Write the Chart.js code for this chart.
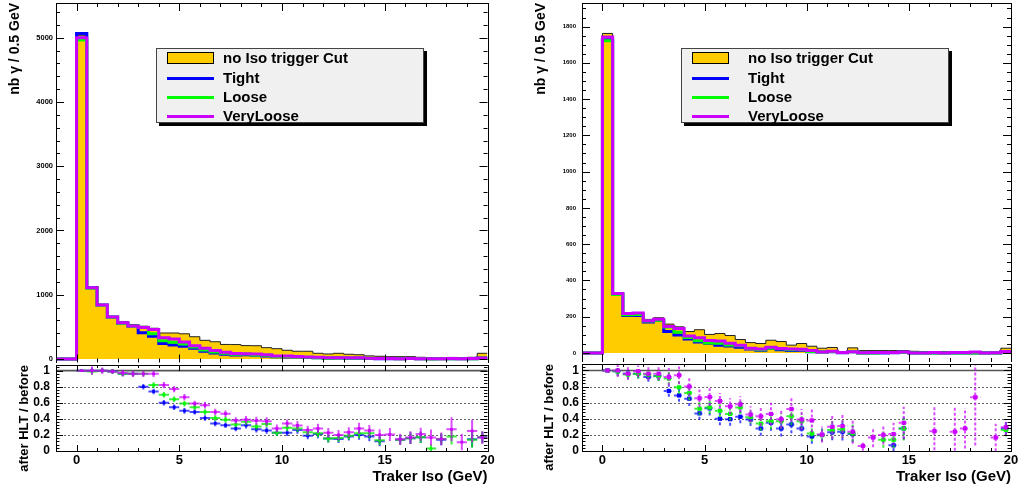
<!DOCTYPE html>
<html>
<head>
<meta charset="utf-8">
<script src="https://cdn.jsdelivr.net/npm/chart.js@4/dist/chart.umd.min.js"></script>
<style>
  body { margin: 0; width: 1019px; height: 488px; background: #fff; position: relative; overflow: hidden;
         font-family: "Liberation Sans", Arial, Helvetica, sans-serif; }
  canvas { position: absolute; }
  .legend { position: absolute; box-sizing: border-box; width: 268px; height: 75px; background: #f0f0f0;
            border: 1px solid #444; box-shadow: 3px 3px 0 #000; z-index: 5; }
  .legend div { position: absolute; }
  .legend .txt { left: 66px; font-size: 15px; font-weight: bold; line-height: 18px; white-space: nowrap; color: #000; }
  .legend .box { left: 10px; top: 3px; height: 12px; background: #ffcc00; border: 1px solid #000; box-sizing: border-box; }
  .legend .ln { left: 10px; height: 3px; }
</style>
</head>
<body>
<canvas id="upperL" width="500" height="363" style="left:0;top:0"></canvas>
<canvas id="ratioL" width="500" height="125" style="left:0;top:363px"></canvas>
<canvas id="upperR" width="499" height="362" style="left:520px;top:0"></canvas>
<canvas id="ratioR" width="499" height="126" style="left:520px;top:362px"></canvas>

<div class="legend" style="left:156px;top:48px">
  <div class="box" style="width:47px"></div>
  <div class="txt" style="top:0px">no Iso trigger Cut</div>
  <div class="ln" style="top:27.5px;width:47px;background:#0000ff"></div>
  <div class="txt" style="top:19.5px">Tight</div>
  <div class="ln" style="top:46.5px;width:47px;background:#00ff00"></div>
  <div class="txt" style="top:38.5px">Loose</div>
  <div class="ln" style="top:65.5px;width:47px;background:#cc00ff"></div>
  <div class="txt" style="top:57.5px">VeryLoose</div>
</div>
<div class="legend" style="left:681px;top:48px">
  <div class="box" style="width:37px"></div>
  <div class="txt" style="top:0px">no Iso trigger Cut</div>
  <div class="ln" style="top:27.5px;width:37px;background:#0000ff"></div>
  <div class="txt" style="top:19.5px">Tight</div>
  <div class="ln" style="top:46.5px;width:37px;background:#00ff00"></div>
  <div class="txt" style="top:38.5px">Loose</div>
  <div class="ln" style="top:65.5px;width:37px;background:#cc00ff"></div>
  <div class="txt" style="top:57.5px">VeryLoose</div>
</div>

<script>
// ---- binning (0.5 GeV bins from -1 to 20) ----
var binLow = [-1, -0.5, 0, 0.5, 1, 1.5, 2, 2.5, 3, 3.5, 4, 4.5, 5, 5.5, 6, 6.5, 7, 7.5, 8, 8.5, 9, 9.5,
              10, 10.5, 11, 11.5, 12, 12.5, 13, 13.5, 14, 14.5, 15, 15.5, 16, 16.5, 17, 17.5, 18, 18.5, 19, 19.5];
var binCenter = [0.25, 0.75, 1.25, 1.75, 2.25, 2.75, 3.25, 3.75, 4.25, 4.75, 5.25, 5.75, 6.25, 6.75, 7.25, 7.75,
                 8.25, 8.75, 9.25, 9.75, 10.25, 10.75, 11.25, 11.75, 12.25, 12.75, 13.25, 13.75, 14.25, 14.75,
                 15.25, 15.75, 16.25, 16.75, 17.25, 17.75, 18.25, 18.75, 19.25, 19.75];
var xMin = -1, xMax = 20, halfBin = 0.25;

// ---- tick labels ----
var xTicks = [0, 5, 10, 15, 20];
var yTicksL = [0, 1000, 2000, 3000, 4000, 5000];
var yTicksR = [0, 200, 400, 600, 800, 1000, 1200, 1400, 1600, 1800];
var ratioTicks = [0, 0.2, 0.4, 0.6, 0.8, 1];

// ---- left plot: counts per bin ----
var noIsoL  = [0, 0, 5030, 1110, 840, 660, 580, 535, 510, 478, 404, 404, 392, 346, 290, 268, 226, 224, 208, 206, 176, 160,
               135, 120, 120, 88, 78, 88, 73, 66, 48, 42, 36, 36, 36, 26, 22, 16, 24, 20, 26, 88];
var tightL  = [0, 0, 5065, 1108, 838, 652, 557, 514, 408, 354, 242, 218, 196, 168, 119, 92, 72, 63, 67, 56, 45, 36,
               31, 31, 23, 18, 12, 14, 13, 13, 9, 5, 5, 5, 6, 4, 3, 2, 3, 2, 4, 15];
var looseL  = [0, 0, 4965, 1100, 835, 650, 557, 514, 490, 392, 283, 259, 231, 187, 141, 110, 88, 74, 76, 63, 59, 36,
               39, 34, 28, 19, 12, 14, 14, 15, 11, 6, 6, 5, 6, 4, 1, 2, 4, 2, 4, 15];
var vlooseL = [0, 0, 5000, 1110, 840, 655, 563, 514, 490, 459, 331, 311, 263, 204, 165, 130, 105, 85, 81, 78, 65, 45,
               46, 38, 31, 25, 18, 18, 17, 18, 12, 8, 7, 5, 6, 5, 4, 2, 6, 2, 6, 15];

// ---- left plot: ratio after HLT / before ----
var vlooseRatioL = [1.0, 1.0, 1.0, 0.99, 0.97, 0.96, 0.96, 0.96, 0.82, 0.77, 0.67, 0.59, 0.57, 0.485, 0.464, 0.38, 0.39, 0.377, 0.37, 0.28,
                    0.343, 0.318, 0.26, 0.28, 0.226, 0.20, 0.234, 0.28, 0.255, 0.20, 0.205, 0.146, 0.167, 0.21, 0.167, 0.15, 0.27, 0.11, 0.25, 0.167];
var looseRatioL  = [1.0, 0.99, 1.0, 0.99, 0.96, 0.96, 0.96, 0.82, 0.70, 0.644, 0.59, 0.544, 0.485, 0.41, 0.39, 0.33, 0.364, 0.305, 0.335, 0.226,
                    0.29, 0.28, 0.234, 0.22, 0.155, 0.163, 0.19, 0.22, 0.22, 0.134, null, 0.14, 0.16, 0.17, 0.03, 0.15, 0.18, null, 0.14, 0.17];
var tightRatioL  = [1.0, 1.0, 1.0, 0.99, 0.96, 0.96, 0.80, 0.74, 0.60, 0.544, 0.50, 0.485, 0.41, 0.343, 0.32, 0.28, 0.32, 0.27, 0.255, 0.226,
                    0.226, 0.26, 0.19, 0.21, 0.155, 0.15, 0.18, 0.20, 0.18, 0.12, null, 0.14, 0.16, 0.17, null, 0.14, null, null, 0.146, 0.17];
var vlooseErrL = [0.01, 0.05, 0.04, 0.03, 0.04, 0.04, 0.04, 0.04, 0.04, 0.04, 0.04, 0.035, 0.04, 0.04, 0.04, 0.04, 0.045, 0.05, 0.05, 0.05,
                  0.05, 0.055, 0.055, 0.06, 0.06, 0.06, 0.06, 0.07, 0.07, 0.07, 0.08, 0.07, 0.08, 0.08, 0.1, 0.08, 0.15, 0.1, 0.14, 0.08];
var looseErrL  = [0.01, 0.04, 0.03, 0.03, 0.03, 0.03, 0.03, 0.035, 0.035, 0.035, 0.035, 0.03, 0.035, 0.035, 0.035, 0.035, 0.04, 0.04, 0.04, 0.04,
                  0.04, 0.045, 0.045, 0.05, 0.05, 0.05, 0.05, 0.06, 0.06, 0.06, null, 0.06, 0.07, 0.07, 0.05, 0.07, 0.1, null, 0.1, 0.07];
var tightErrL  = [0.01, 0.04, 0.03, 0.03, 0.03, 0.03, 0.035, 0.035, 0.035, 0.035, 0.035, 0.03, 0.035, 0.035, 0.035, 0.035, 0.04, 0.04, 0.04, 0.04,
                  0.04, 0.045, 0.045, 0.05, 0.05, 0.05, 0.05, 0.06, 0.06, 0.06, null, 0.06, 0.07, 0.07, null, 0.07, null, null, 0.1, 0.07];

// ---- right plot: counts per bin ----
var noIsoR  = [0, 0, 1762, 328, 222, 222, 185, 194, 159, 144, 118, 128, 102, 107, 96, 74, 57, 52, 70, 63, 43, 52,
               37, 26, 30, 6, 28, 13, 13, 13, 13, 13, 9, 7, 7, 7, 7, 7, 7, 5, 5, 26];
var tightR  = [0, 0, 1728, 325, 206, 206, 170, 180, 118, 99, 77, 60, 54, 43, 38, 31, 22, 15, 25, 18, 14, 15,
               7, 5, 7, 1, 6, 0, 0, 0, 1, 4, 0, 0, 0, 0, 0, 0, 0, 0, 0, 7];
var looseR  = [0, 0, 1722, 322, 210, 212, 176, 180, 143, 114, 85, 67, 55, 54, 44, 40, 24, 18, 26, 23, 18, 19,
               8, 5, 8, 2, 6, 0, 0, 2, 2, 4, 0, 0, 0, 0, 0, 0, 0, 0, 0, 7];
var vlooseR = [0, 0, 1742, 328, 218, 220, 178, 186, 146, 135, 94, 84, 68, 66, 53, 43, 26, 22, 32, 25, 22, 20,
               14, 5, 9, 2, 7, 1, 2, 3, 3, 5, 0, 0, 2, 0, 2, 2, 5, 0, 1, 8];

// ---- right plot: ratio after HLT / before ----
var vlooseRatioR = [1.0, 1.0, 0.96, 0.99, 0.96, 0.96, 0.92, 0.94, 0.80, 0.654, 0.67, 0.62, 0.554, 0.58, 0.454, 0.43, 0.46, 0.395, 0.52, 0.39,
                    0.38, 0.204, 0.30, 0.31, 0.24, 0.063, 0.167, 0.20, 0.21, 0.35, null, null, 0.246, null, 0.24, 0.28, 0.667, null, 0.167, 0.296];
var looseRatioR  = [1.0, 0.99, 0.95, 0.96, 0.95, 0.93, 0.90, 0.79, 0.72, 0.525, 0.54, 0.50, 0.46, 0.54, 0.42, 0.34, 0.37, 0.37, 0.43, 0.37,
                    0.217, 0.196, 0.26, 0.27, 0.22, null, null, 0.14, 0.14, 0.28, null, null, null, null, null, null, null, null, null, 0.26];
var tightRatioR  = [1.0, 0.99, 0.96, 0.96, 0.92, 0.93, 0.745, 0.69, 0.65, 0.467, 0.53, 0.40, 0.395, 0.425, 0.39, 0.28, 0.35, 0.28, 0.33, 0.28,
                    0.18, 0.20, 0.233, 0.24, 0.21, null, null, null, 0.07, 0.28, null, null, null, null, null, null, null, null, null, 0.28];
var vlooseErrR = [0.01, 0.08, 0.08, 0.07, 0.08, 0.08, 0.11, 0.11, 0.12, 0.11, 0.11, 0.1, 0.1, 0.1, 0.1, 0.12, 0.14, 0.12, 0.15, 0.13,
                  0.15, 0.1, 0.15, 0.15, 0.15, 0.06, 0.12, 0.12, 0.14, 0.2, null, null, 0.3, null, 0.3, 0.25, 0.6, null, 0.17, 0.1];
var looseErrR  = [0.01, 0.06, 0.06, 0.06, 0.06, 0.06, 0.08, 0.08, 0.09, 0.08, 0.08, 0.08, 0.08, 0.08, 0.08, 0.09, 0.1, 0.1, 0.11, 0.1,
                  0.1, 0.08, 0.11, 0.11, 0.11, null, null, 0.1, 0.1, 0.15, null, null, null, null, null, null, null, null, null, 0.08];
var tightErrR  = [0.01, 0.06, 0.06, 0.06, 0.06, 0.06, 0.07, 0.08, 0.09, 0.08, 0.09, 0.08, 0.08, 0.08, 0.08, 0.09, 0.1, 0.1, 0.11, 0.1,
                  0.09, 0.08, 0.1, 0.11, 0.1, null, null, null, 0.07, 0.14, null, null, null, null, null, null, null, null, null, 0.08];

var FONT = '"Liberation Sans", Arial, Helvetica, sans-serif';
var COL = { noIso: '#ffcc00', tight: '#0000ff', loose: '#00ff00', vloose: '#cc00ff' };
var COLA = { tight: 'rgba(0,0,255,0.7)', loose: 'rgba(0,230,0,0.75)', vloose: 'rgba(204,0,255,0.7)' };

// ROOT-like frame: inward ticks on all four sides, dotted grid, reference line
var rootFrame = {
  id: 'rootFrame',
  beforeDatasetsDraw: function (chart, args, o) {
    var ctx = chart.ctx, a = chart.chartArea, y = chart.scales.y;
    ctx.save();
    if (o.dotted) {
      ctx.strokeStyle = '#666'; ctx.lineWidth = 1; ctx.setLineDash([2, 2]);
      o.dotted.forEach(function (v) {
        var py = Math.round(y.getPixelForValue(v)) + 0.5;
        ctx.beginPath(); ctx.moveTo(a.left, py); ctx.lineTo(a.right, py); ctx.stroke();
      });
      ctx.setLineDash([]);
    }
    if (o.refLine != null) {
      var ry = y.getPixelForValue(o.refLine);
      ctx.strokeStyle = '#555'; ctx.lineWidth = 1.6;
      ctx.beginPath(); ctx.moveTo(a.left, ry); ctx.lineTo(a.right, ry); ctx.stroke();
    }
    ctx.restore();
  },
  afterDatasetsDraw: function (chart, args, o) {
    var ctx = chart.ctx, a = chart.chartArea, x = chart.scales.x, y = chart.scales.y;
    function steps(lo, hi, st) {
      var out = [];
      for (var k = Math.ceil(lo / st - 1e-9); k * st <= hi + 1e-9; k++) out.push(k * st);
      return out;
    }
    function isMajor(v, m) { return Math.abs(v / m - Math.round(v / m)) < 1e-6; }
    ctx.save();
    ctx.strokeStyle = '#000'; ctx.lineWidth = 1;
    steps(x.min, x.max, o.xMinor).forEach(function (v) {
      var px = Math.round(x.getPixelForValue(v)) + 0.5;
      var len = isMajor(v, o.xMajor) ? o.xLen : o.xLen / 2;
      ctx.beginPath();
      ctx.moveTo(px, a.bottom); ctx.lineTo(px, a.bottom - len);
      ctx.moveTo(px, a.top); ctx.lineTo(px, a.top + len);
      ctx.stroke();
    });
    steps(y.min, y.max, o.yMinor).forEach(function (v) {
      var py = Math.round(y.getPixelForValue(v)) + 0.5;
      var len = isMajor(v, o.yMajor) ? o.yLen : o.yLen / 2;
      ctx.beginPath();
      ctx.moveTo(a.left, py); ctx.lineTo(a.left + len, py);
      ctx.moveTo(a.right, py); ctx.lineTo(a.right - len, py);
      ctx.stroke();
    });
    ctx.strokeRect(Math.round(a.left) + 0.5, Math.round(a.top) + 0.5,
                   Math.round(a.right - a.left), Math.round(a.bottom - a.top));
    ctx.restore();
  }
};

function histPoints(values) {
  var pts = binLow.map(function (x, i) { return { x: x, y: values[i] }; });
  pts.push({ x: xMax, y: values[values.length - 1] });
  return pts;
}

function errorSegments(values, errors) {
  var pts = [];
  binCenter.forEach(function (c, i) {
    var v = values[i];
    if (v == null) return;
    var e = errors[i] || 0;
    pts.push({ x: c - halfBin, y: v }, { x: c + halfBin, y: v }, { x: c, y: null });
    pts.push({ x: c, y: v - e }, { x: c, y: v + e }, { x: c, y: null });
  });
  return pts;
}

function markers(values) {
  var pts = [];
  binCenter.forEach(function (c, i) { if (values[i] != null) pts.push({ x: c, y: values[i] }); });
  return pts;
}

function fixAxis(size, key) {
  return function (s) {
    s[key] = size;
    s.paddingLeft = 0; s.paddingRight = 0; s.paddingTop = 0; s.paddingBottom = 0;
  };
}

function useTicks(list) {
  return function (s) { s.ticks = list.map(function (v) { return { value: v }; }); };
}

function histLine(label, values, color) {
  return { label: label, data: histPoints(values), borderColor: color, borderWidth: 3,
           stepped: true, pointRadius: 0, fill: false };
}

function makeUpper(id, h, cfg) {
  return new Chart(document.getElementById(id), {
    type: 'line',
    data: {
      datasets: [
        histLine('VeryLoose', h.vloose, COL.vloose),
        histLine('Loose', h.loose, COL.loose),
        histLine('Tight', h.tight, COL.tight),
        { label: 'no Iso trigger Cut', data: histPoints(h.noIso), borderColor: '#222', borderWidth: 1,
          backgroundColor: COL.noIso, fill: 'origin', stepped: true, pointRadius: 0 }
      ]
    },
    options: {
      responsive: false, animation: false,
      layout: { padding: cfg.padding, autoPadding: false },
      plugins: {
        legend: { display: false }, tooltip: { enabled: false },
        rootFrame: { xMinor: 1, xMajor: 5, xLen: 8, yMinor: cfg.yMinor, yMajor: cfg.yMajor, yLen: 8 }
      },
      scales: {
        x: { type: 'linear', min: xMin, max: xMax, display: false },
        y: {
          min: cfg.yMin, max: cfg.yMax, afterFit: fixAxis(cfg.axisWidth, 'width'),
          afterBuildTicks: useTicks(cfg.yTicks),
          grid: { display: false, drawTicks: false }, border: { display: false },
          ticks: { autoSkip: false, padding: cfg.tickPad, color: '#000',
                   font: { family: FONT, size: cfg.tickSize, weight: 'bold' },
                   callback: function (v) { return String(v); } },
          title: { display: true, text: 'nb γ / 0.5 GeV', align: 'end', color: '#000',
                   font: { family: FONT, size: 14, weight: 'bold' }, padding: { top: cfg.titlePad, bottom: 0 } }
        }
      }
    },
    plugins: [rootFrame]
  });
}

function makeRatio(id, r, cfg) {
  function pair(vals, errs, color, colorA) {
    return [
      { data: markers(vals), showLine: false, pointStyle: 'rect', pointRadius: cfg.markerR,
        pointBackgroundColor: color, pointBorderColor: color, pointBorderWidth: 0 },
      { data: errorSegments(vals, errs), borderColor: colorA, borderWidth: 2, borderDash: cfg.dash,
        pointRadius: 0, spanGaps: false, fill: false }
    ];
  }
  var ds = [].concat(
    pair(r.vloose, r.vlooseErr, COL.vloose, COLA.vloose),
    pair(r.loose, r.looseErr, COL.loose, COLA.loose),
    pair(r.tight, r.tightErr, COL.tight, COLA.tight)
  );
  return new Chart(document.getElementById(id), {
    type: 'line',
    data: { datasets: ds },
    options: {
      responsive: false, animation: false,
      layout: { padding: cfg.padding, autoPadding: false },
      plugins: {
        legend: { display: false }, tooltip: { enabled: false },
        rootFrame: { xMinor: 1, xMajor: 5, xLen: 6, yMinor: 0.04, yMajor: 0.2, yLen: 7,
                     dotted: [0.2, 0.4, 0.6, 0.8], refLine: 1 }
      },
      scales: {
        x: {
          type: 'linear', min: xMin, max: xMax, afterFit: fixAxis(37, 'height'),
          afterBuildTicks: useTicks(xTicks),
          grid: { display: false, drawTicks: false }, border: { display: false },
          ticks: { autoSkip: false, maxRotation: 0, padding: 2, color: '#000',
                   font: { family: FONT, size: 13, weight: 'bold' },
                   callback: function (v) { return String(v); } },
          title: { display: true, text: 'Traker Iso (GeV)', align: 'end', color: '#000',
                   font: { family: FONT, size: 15, weight: 'bold' }, padding: { top: 0, bottom: 2.5 } }
        },
        y: {
          min: 0, max: cfg.yMax, afterFit: fixAxis(cfg.axisWidth, 'width'),
          afterBuildTicks: useTicks(ratioTicks),
          grid: { display: false, drawTicks: false }, border: { display: false },
          ticks: { autoSkip: false, padding: cfg.tickPad, color: '#000',
                   font: { family: FONT, size: 12, weight: 'bold' },
                   callback: function (v) {
                     if (Math.abs(v) < 1e-9) return '0';
                     if (Math.abs(v - 1) < 1e-9) return '1';
                     return v.toFixed(1);
                   } },
          title: { display: true, text: 'after HLT / before', align: 'end', color: '#000',
                   font: { family: FONT, size: 13, weight: 'bold' }, padding: { top: cfg.titlePad, bottom: 0 } }
        }
      }
    },
    plugins: [rootFrame]
  });
}

makeUpper('upperL', { noIso: noIsoL, tight: tightL, loose: looseL, vloose: vlooseL }, {
  padding: { left: 0, top: 3, right: 12.5, bottom: 0.5 }, axisWidth: 56, yTicks: yTicksL,
  yMin: -55, yMax: 5540, yMajor: 1000, yMinor: 200, tickSize: 7.5, tickPad: 3, titlePad: 6.6
});
makeRatio('ratioL', {
  vloose: vlooseRatioL, loose: looseRatioL, tight: tightRatioL,
  vlooseErr: vlooseErrL, looseErr: looseErrL, tightErr: tightErrL
}, { padding: { left: 0, top: 2, right: 12.5, bottom: 0 }, axisWidth: 56, yMax: 1.07, tickPad: 6,
     titlePad: 16.7, markerR: 2, dash: [] });

makeUpper('upperR', { noIso: noIsoR, tight: tightR, loose: looseR, vloose: vlooseR }, {
  padding: { left: 0, top: 3, right: 8, bottom: 0 }, axisWidth: 62, yTicks: yTicksR,
  yMin: -50, yMax: 1930, yMajor: 200, yMinor: 50, tickSize: 6, tickPad: 6, titlePad: 12.6
});
makeRatio('ratioR', {
  vloose: vlooseRatioR, loose: looseRatioR, tight: tightRatioR,
  vlooseErr: vlooseErrR, looseErr: looseErrR, tightErr: tightErrR
}, { padding: { left: 0, top: 2, right: 8, bottom: 0 }, axisWidth: 62, yMax: 1.08, tickPad: 3,
     titlePad: 21.7, markerR: 3, dash: [3, 2] });
</script>
</body>
</html>
